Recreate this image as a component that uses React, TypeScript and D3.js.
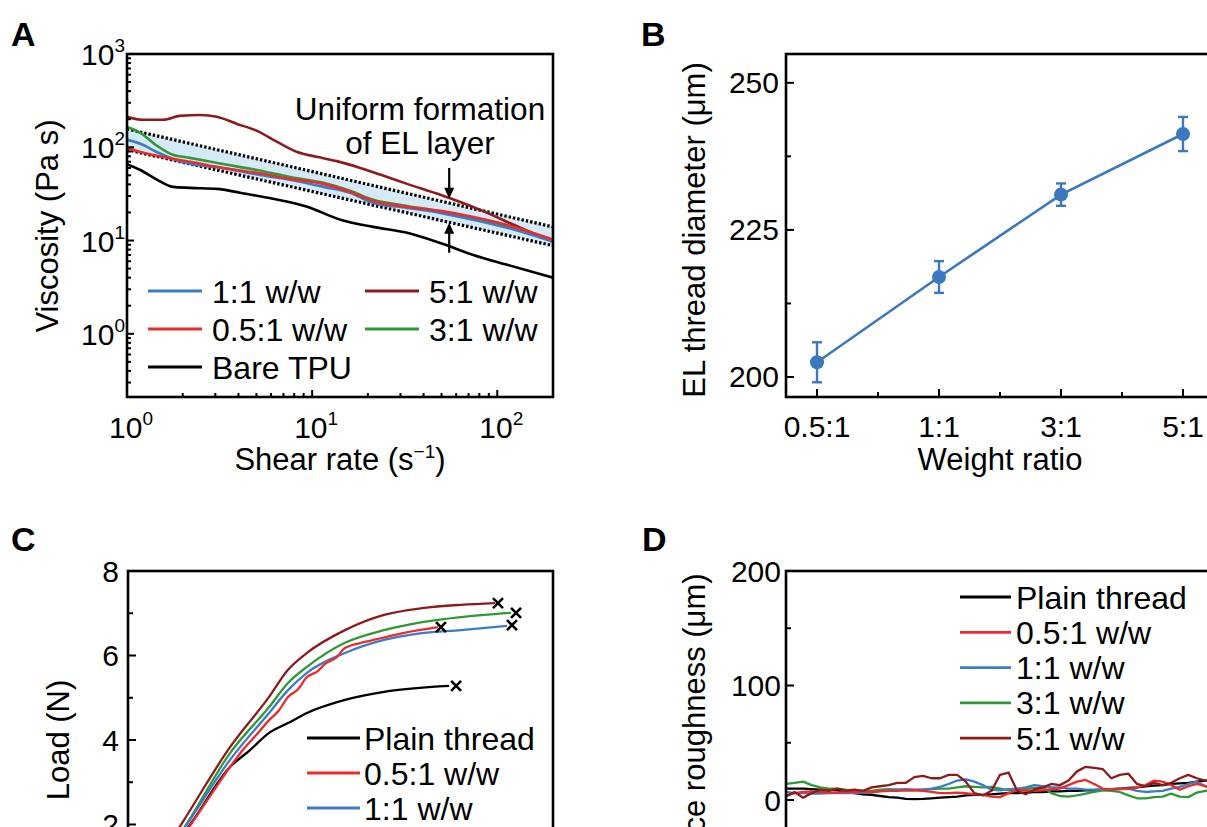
import React from 'react'
import * as d3 from 'd3'

const FONT = '"Liberation Sans", Arial, Helvetica, sans-serif'
const BLUE = '#3b7cc6'
const RED = '#ee2a2a'
const DARKRED = '#8e1b1b'
const GREEN = '#2f9a35'
const BLACK = '#000000'
const POINT = '#3b78bd'

// A: viscosity (Pa s) vs shear rate (1/s)
const viscBare = [[1, 66], [1.18, 57], [1.45, 45], [1.77, 37.6], [2.19, 36.7], [3.06, 35.8], [4.08, 32.5], [6.15, 28], [9.4, 23], [14.2, 16.7], [21.4, 14], [32.6, 12.1], [49.2, 9.4], [74.2, 7], [113, 5.5], [200, 4]]
const visc05 = [[1, 98.6], [1.18, 89], [1.45, 80.9], [1.77, 75.1], [2.19, 69.8], [3.3, 60], [5.04, 53.2], [7.6, 45.8], [11.5, 40.5], [16, 33.3], [21.4, 26.6], [32.6, 23], [49.2, 20.8], [74.2, 17.9], [113, 14.7], [200, 10.2]]
const visc1 = [[1, 120], [1.18, 109], [1.45, 89], [1.77, 75], [2.19, 66.4], [3.3, 60], [5.04, 51], [7.6, 44.8], [11.5, 37.6], [16, 32.5], [21.4, 25.3], [32.6, 22.4], [49.2, 19.8], [74.2, 16.7], [113, 13.7], [200, 9.7]]
const visc3 = [[1, 165], [1.18, 143], [1.45, 104], [1.77, 83], [2.19, 77], [3.3, 66], [5.04, 57], [7.6, 48], [11.5, 41.5], [16, 34.1], [21.4, 27.3], [32.6, 23.5], [49.2, 20.5], [74.2, 17.2], [113, 14], [200, 9.9]]
const visc5 = [[1, 212], [1.22, 197], [1.57, 197], [1.93, 217], [2.48, 222], [3.06, 212], [3.93, 178], [5.04, 150], [6.47, 114], [8.3, 89], [10.6, 79], [13.6, 71], [18.2, 60], [23.3, 51], [32.6, 40.5], [49.2, 30.9], [80.9, 21.3], [133, 13.7], [200, 9.7]]
const bandShear = [1, 200]
const bandUpper = [157, 14]
const bandLower = [94, 8.8]
const arrows = [{ x: 55, from: 60, to: 28 }, { x: 55, from: 7.4, to: 15.5 }]

// B: EL thread diameter
const ratios = ['0.5:1', '1:1', '3:1', '5:1']
const diameter = [202.5, 217, 231, 241.3]
const diameterErr = [3.4, 2.7, 1.9, 2.9]

// C: load (N) vs extension
const loadPlain = [[0, 0], [3.01, 2.06], [4.8, 3.36], [5.74, 3.76], [6.64, 4.17], [7.53, 4.4], [8.42, 4.64], [10.21, 4.95], [12.05, 5.14], [15.11, 5.28]]
const load05 = [[0, 0], [3.01, 2.04], [4.8, 3.36], [5.3, 3.7], [6.0, 4.1], [6.64, 4.47], [7.1, 4.7], [7.53, 5.02], [8.0, 5.2], [8.42, 5.49], [8.9, 5.62], [9.32, 5.82], [9.8, 5.95], [10.21, 6.18], [11.15, 6.32], [12.0, 6.42], [12.94, 6.53], [14.59, 6.67]]
const load1 = [[0, 0], [2.82, 2.04], [4.8, 3.53], [6.64, 4.64], [7.53, 5.18], [8.42, 5.59], [10.21, 6.06], [12.05, 6.37], [13.84, 6.53], [15.67, 6.6], [17.84, 6.7]]
const load3 = [[0, 0], [2.82, 2.06], [4.8, 3.69], [6.64, 4.78], [7.53, 5.35], [8.42, 5.73], [10.21, 6.3], [12.05, 6.6], [13.84, 6.79], [15.67, 6.91], [18.02, 7.01]]
const load5 = [[0, 0], [2.64, 2.11], [4.8, 3.83], [6.64, 5.02], [7.53, 5.66], [8.42, 6.06], [10.21, 6.6], [12.05, 6.96], [13.84, 7.12], [15.67, 7.2], [17.27, 7.24]]
const breakPoints = [[15.44, 5.28], [14.73, 6.67], [18.07, 6.72], [18.26, 7.01], [17.41, 7.24]]

// D: surface roughness (um) along thread
const posD = [0, 0.2, 0.4, 0.6, 0.8, 1, 1.2, 1.4, 1.6, 1.8, 2, 2.2, 2.4, 2.6, 2.8, 3, 3.2, 3.4, 3.6, 3.8, 4, 4.2, 4.4, 4.6, 4.8, 5, 5.2, 5.4, 5.6, 5.8, 6, 6.2, 6.4, 6.6, 6.8, 7, 7.2, 7.4, 7.6, 7.8, 8, 8.2, 8.4, 8.6, 8.8, 9, 9.2, 9.4, 9.6, 9.8, 10]
const roughPlain = [10, 10, 10, 9.5, 9, 9, 8.5, 7, 6, 5, 4.5, 3.5, 2.5, 2, 1, 0.8, 1, 1.5, 2, 2.5, 3, 4, 4.5, 4.5, 5, 5.5, 6, 6, 6.5, 7, 7, 7.5, 7.5, 8, 8, 8.5, 8.5, 9, 9.5, 10, 10.5, 11, 12, 12.5, 13, 14, 14.5, 15, 16, 17, 17]
const rough05 = [4, 6, 7, 7.5, 7, 6.5, 6.5, 7, 7, 7.5, 7, 7.5, 8, 8, 8.5, 8.5, 8, 7, 6, 6, 6.5, 6, 5, 4.5, 3, 2.5, 6, 8.5, 8.5, 8, 8.5, 9.5, 10, 13, 16, 17.5, 14, 10, 9, 9.5, 10, 11, 13, 17, 16, 13, 9, 12, 14, 12, 11]
const rough1 = [7, 6, 6, 5.5, 5.5, 6, 6, 6, 6, 6.5, 6.5, 8, 8.5, 9, 9.5, 9, 9, 10, 11.5, 14, 17, 18, 16, 13, 9, 8.5, 9.5, 10, 11, 13, 12, 11, 11, 10, 10, 9, 9, 9.5, 9.5, 10, 10, 8, 7, 7.5, 8, 10, 11.5, 14, 16, 12, 11]
const rough3 = [14, 15, 16, 13, 11, 10, 10, 9, 8.5, 8, 8, 9, 9.5, 9, 8.5, 8.5, 9, 9.5, 10, 10, 11, 12, 11.5, 11, 11.5, 10, 8.5, 9, 10, 10.5, 11, 6, 3.5, 3, 4, 5.5, 7, 8.5, 8, 7, 4, 1.5, 1.5, 2.5, 3, 5.5, 3, 2.5, 6.5, 8, 8]
const rough5 = [3, 7, 2, 6, 9, 8, 10, 8, 9, 8, 11, 12, 13, 15, 15, 20, 21, 19, 19, 22, 22, 16, 6, 4, 8, 22, 24, 8, 5, 9, 11, 14, 13, 17, 25, 29, 28, 27, 19, 22, 23, 14, 12, 15, 13, 15, 19, 22, 19, 17, 16]

const seriesLabels = ['Plain thread', '0.5:1 w/w', '1:1 w/w', '3:1 w/w', '5:1 w/w']
const seriesColors = [BLACK, RED, BLUE, GREEN, DARKRED]

const txt = { fontFamily: FONT, fill: '#000' }

function Sup({ x, y, base, exp, anchor }: any) {
  return (
    <text x={x} y={y} textAnchor={anchor} fontSize={30} style={txt}>
      {base}
      <tspan dy={-13} fontSize={19}>{exp}</tspan>
    </text>
  )
}

function PanelA() {
  const x = d3.scaleLog().domain([1, 200]).range([127, 553])
  const y = d3.scaleLog().domain([0.21, 1000]).range([397, 54])
  const line = d3.line<number[]>().x(d => x(d[0])).y(d => y(d[1])).curve(d3.curveMonotoneX)
  const straight = d3.line<number[]>().x(d => x(d[0])).y(d => y(d[1]))
  const band = d3.area<number>()
    .x(d => x(bandShear[d]))
    .y0(d => y(bandLower[d]))
    .y1(d => y(bandUpper[d]))
  const upper = bandShear.map((s, i) => [s, bandUpper[i]])
  const lower = bandShear.map((s, i) => [s, bandLower[i]])
  const yt = y.ticks()
  const xt = x.ticks()
  const curves: [number[][], string][] = [
    [viscBare, BLACK], [visc5, DARKRED], [visc3, GREEN], [visc1, BLUE], [visc05, RED],
  ]
  const legend = [
    { label: '1:1 w/w', color: BLUE, col: 0, row: 0 },
    { label: '0.5:1 w/w', color: RED, col: 0, row: 1 },
    { label: 'Bare TPU', color: BLACK, col: 0, row: 2 },
    { label: '5:1 w/w', color: DARKRED, col: 1, row: 0 },
    { label: '3:1 w/w', color: GREEN, col: 1, row: 1 },
  ]
  const colX = [148, 365]
  return (
    <g>
      <defs>
        <clipPath id="clipA"><rect x={127} y={54} width={426} height={343} /></clipPath>
      </defs>
      <g clipPath="url(#clipA)">
        <path d={band([0, 1]) || ''} fill="#cfe5f5" fillOpacity={0.85} />
        <path d={straight(upper) || ''} fill="none" stroke="#000" strokeWidth={3.2} strokeDasharray="2.4 2" />
        <path d={straight(lower) || ''} fill="none" stroke="#000" strokeWidth={3.2} strokeDasharray="2.4 2" />
        {curves.map(([d, c], i) => (
          <path key={i} d={line(d) || ''} fill="none" stroke={c} strokeWidth={2.6} strokeLinejoin="round" />
        ))}
      </g>
      {arrows.map((a, i) => {
        const ax = x(a.x)
        const y0 = y(a.from)
        const y1 = y(a.to)
        const dir = y1 > y0 ? 1 : -1
        return (
          <g key={i}>
            <line x1={ax} x2={ax} y1={y0} y2={y1 - dir * 8} stroke="#000" strokeWidth={2.2} />
            <path d={`M${ax - 5},${y1 - dir * 11}L${ax + 5},${y1 - dir * 11}L${ax},${y1}Z`} fill="#000" />
          </g>
        )
      })}
      <text x={420} y={120} textAnchor="middle" fontSize={31.5} style={txt}>Uniform formation</text>
      <text x={420} y={154} textAnchor="middle" fontSize={31.5} style={txt}>of EL layer</text>
      {legend.map((l, i) => {
        const ly = 291 + l.row * 38
        return (
          <g key={i}>
            <line x1={colX[l.col]} x2={colX[l.col] + 54} y1={ly} y2={ly} stroke={l.color} strokeWidth={3} />
            <text x={colX[l.col] + 64} y={ly + 11.5} fontSize={32} style={txt}>{l.label}</text>
          </g>
        )
      })}
      {yt.map((t, i) => {
        const major = Math.abs(Math.log10(t) - Math.round(Math.log10(t))) < 1e-9
        return <line key={i} x1={127} x2={127 + (major ? 7 : 4)} y1={y(t)} y2={y(t)} stroke="#000" strokeWidth={2} />
      })}
      {xt.map((t, i) => {
        const major = Math.abs(Math.log10(t) - Math.round(Math.log10(t))) < 1e-9
        return <line key={i} x1={x(t)} x2={x(t)} y1={397} y2={397 - (major ? 7 : 4)} stroke="#000" strokeWidth={2} />
      })}
      <rect x={127} y={54} width={426} height={343} fill="none" stroke="#000" strokeWidth={2.6} />
      {[0, 1, 2, 3].map(e => (
        <Sup key={e} x={125} y={y(Math.pow(10, e)) + 11} base="10" exp={String(e)} anchor="end" />
      ))}
      {[0, 1, 2].map(e => (
        <Sup key={e} x={x(Math.pow(10, e)) + 4} y={438} base="10" exp={String(e)} anchor="middle" />
      ))}
      <text x={340} y={470} textAnchor="middle" fontSize={31} style={txt}>
        Shear rate (s<tspan dy={-12} fontSize={19}>−1</tspan><tspan dy={12}>)</tspan>
      </text>
      <text transform="translate(58,226) rotate(-90)" textAnchor="middle" fontSize={31} style={txt}>Viscosity (Pa s)</text>
      <text x={11} y={46} fontSize={34} fontWeight="bold" style={txt}>A</text>
    </g>
  )
}

function PanelB() {
  const x = d3.scalePoint().domain(ratios).range([817, 1183])
  const y = d3.scaleLinear().domain([196.6, 254.9]).range([397, 54])
  const pts = ratios.map((r, i) => [x(r) as number, y(diameter[i])])
  const line = d3.line()
  const mids = ratios.slice(1).map((r, i) => ((x(r) as number) + (x(ratios[i]) as number)) / 2)
  return (
    <g>
      <path d={line(pts as [number, number][]) || ''} fill="none" stroke={POINT} strokeWidth={2.6} />
      {ratios.map((r, i) => {
        const cx = x(r) as number
        const lo = y(diameter[i] - diameterErr[i])
        const hi = y(diameter[i] + diameterErr[i])
        return (
          <g key={r}>
            <line x1={cx} x2={cx} y1={lo} y2={hi} stroke={POINT} strokeWidth={2.4} />
            <line x1={cx - 5} x2={cx + 5} y1={lo} y2={lo} stroke={POINT} strokeWidth={2.4} />
            <line x1={cx - 5} x2={cx + 5} y1={hi} y2={hi} stroke={POINT} strokeWidth={2.4} />
            <circle cx={cx} cy={y(diameter[i])} r={7} fill={POINT} />
          </g>
        )
      })}
      <rect x={786} y={54} width={428} height={343} fill="none" stroke="#000" strokeWidth={2.6} />
      {ratios.map(r => (
        <line key={r} x1={x(r)} x2={x(r)} y1={397} y2={389} stroke="#000" strokeWidth={2} />
      ))}
      {mids.map((m, i) => (
        <line key={i} x1={m} x2={m} y1={397} y2={392} stroke="#000" strokeWidth={2} />
      ))}
      {[200, 225, 250].map(t => (
        <g key={t}>
          <line x1={786} x2={794} y1={y(t)} y2={y(t)} stroke="#000" strokeWidth={2} />
          <text x={779} y={y(t) + 10.5} textAnchor="end" fontSize={30} style={txt}>{t}</text>
        </g>
      ))}
      {[212.5, 237.5].map(t => (
        <line key={t} x1={786} x2={791} y1={y(t)} y2={y(t)} stroke="#000" strokeWidth={2} />
      ))}
      {ratios.map(r => (
        <text key={r} x={x(r)} y={437} textAnchor="middle" fontSize={30} style={txt}>{r}</text>
      ))}
      <text x={1000} y={470} textAnchor="middle" fontSize={31} style={txt}>Weight ratio</text>
      <text transform="translate(705,230) rotate(-90)" textAnchor="middle" fontSize={31} style={txt}>EL thread diameter (μm)</text>
      <text x={641} y={46} fontSize={34} fontWeight="bold" style={txt}>B</text>
    </g>
  )
}

function PanelC() {
  const x = d3.scaleLinear().domain([0, 20]).range([128, 553])
  const y = d3.scaleLinear().domain([0, 8]).range([909, 571])
  const line = d3.line<number[]>().x(d => x(d[0])).y(d => y(d[1])).curve(d3.curveMonotoneX)
  const curves = [loadPlain, load05, load1, load3, load5]
  const order = [0, 4, 3, 2, 1]
  // only the first three legend rows fall inside the visible area
  const shown = seriesLabels.slice(0, 3)
  return (
    <g>
      <defs>
        <clipPath id="clipC"><rect x={128} y={571} width={425} height={338} /></clipPath>
      </defs>
      <g clipPath="url(#clipC)">
        {order.map(i => (
          <path key={i} d={line(curves[i]) || ''} fill="none" stroke={seriesColors[i]} strokeWidth={2.3} strokeLinejoin="round" />
        ))}
      </g>
      {breakPoints.map((p, i) => {
        const cx = x(p[0])
        const cy = y(p[1])
        return (
          <path key={i} d={`M${cx - 5},${cy - 5}L${cx + 5},${cy + 5}M${cx - 5},${cy + 5}L${cx + 5},${cy - 5}`} stroke="#000" strokeWidth={2.6} />
        )
      })}
      {shown.map((l, i) => {
        const ly = 738 + i * 35
        return (
          <g key={l}>
            <line x1={307} x2={360} y1={ly} y2={ly} stroke={seriesColors[i]} strokeWidth={2.8} />
            <text x={364} y={ly + 11.5} fontSize={32} style={txt}>{l}</text>
          </g>
        )
      })}
      <rect x={128} y={571} width={425} height={338} fill="none" stroke="#000" strokeWidth={2.6} />
      {[2, 4, 6, 8].map(t => (
        <g key={t}>
          <line x1={128} x2={136} y1={y(t)} y2={y(t)} stroke="#000" strokeWidth={2} />
          <text x={119} y={y(t) + 10.5} textAnchor="end" fontSize={30} style={txt}>{t}</text>
        </g>
      ))}
      {[1, 3, 5, 7].map(t => (
        <line key={t} x1={128} x2={133} y1={y(t)} y2={y(t)} stroke="#000" strokeWidth={2} />
      ))}
      <text transform="translate(69,740) rotate(-90)" textAnchor="middle" fontSize={31} style={txt}>Load (N)</text>
      <text x={11} y={551} fontSize={34} fontWeight="bold" style={txt}>C</text>
    </g>
  )
}

function PanelD() {
  const x = d3.scaleLinear().domain([0, 10]).range([786, 1214])
  const y = d3.scaleLinear().domain([0, 200]).range([800, 571])
  const line = d3.line<number>().x((_, i) => x(posD[i])).y(d => y(d))
  const curves = [roughPlain, rough05, rough1, rough3, rough5]
  const order = [0, 3, 2, 1, 4]
  return (
    <g>
      {order.map(i => (
        <path key={i} d={line(curves[i]) || ''} fill="none" stroke={seriesColors[i]} strokeWidth={2.3} strokeLinejoin="round" />
      ))}
      {seriesLabels.map((l, i) => {
        const ly = 597 + i * 35.3
        return (
          <g key={l}>
            <line x1={960} x2={1011} y1={ly} y2={ly} stroke={seriesColors[i]} strokeWidth={2.8} />
            <text x={1016} y={ly + 11.5} fontSize={32} style={txt}>{l}</text>
          </g>
        )
      })}
      <rect x={786} y={571} width={428} height={338} fill="none" stroke="#000" strokeWidth={2.6} />
      {[0, 100, 200].map(t => (
        <g key={t}>
          <line x1={786} x2={794} y1={y(t)} y2={y(t)} stroke="#000" strokeWidth={2} />
          <text x={781} y={y(t) + 10.5} textAnchor="end" fontSize={30} style={txt}>{t}</text>
        </g>
      ))}
      {[50, 150].map(t => (
        <line key={t} x1={786} x2={791} y1={y(t)} y2={y(t)} stroke="#000" strokeWidth={2} />
      ))}
      <text transform="translate(705,740) rotate(-90)" textAnchor="middle" fontSize={31} style={txt}>Surface roughness (μm)</text>
      <text x={642} y={551} fontSize={34} fontWeight="bold" style={txt}>D</text>
    </g>
  )
}

export default function App() {
  return (
    <svg
      width={1207}
      height={827}
      style={{ position: 'absolute', left: 0, top: 0, background: '#fff', display: 'block' }}
    >
      <rect width={1207} height={827} fill="#fff" />
      <PanelA />
      <PanelB />
      <PanelC />
      <PanelD />
    </svg>
  )
}
